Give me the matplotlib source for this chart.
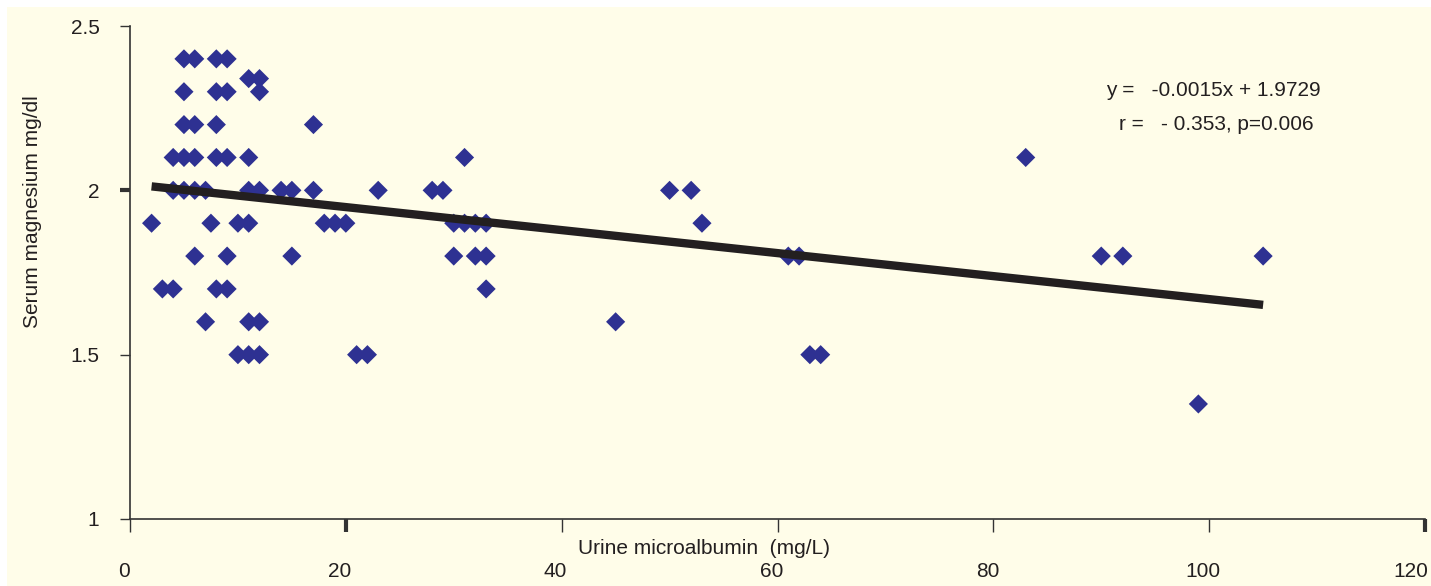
import matplotlib
matplotlib.use("Agg")
import matplotlib.pyplot as plt
import matplotlib.transforms as mtransforms
from matplotlib.patches import Rectangle
import numpy as np

plt.rcParams['font.family'] = ['Liberation Sans Narrow', 'Liberation Sans', 'DejaVu Sans']

# ---- data ----
mg_levels = [2.4, 2.34, 2.3, 2.2, 2.1, 2.0, 1.9, 1.8, 1.7, 1.6, 1.5, 1.35]
albumin_by_level = [
    [5, 6, 8, 9],
    [11, 12],
    [5, 8, 9, 12],
    [5, 6, 8, 17],
    [4, 5, 6, 8, 9, 11, 31, 83],
    [4, 5, 6, 7, 11, 12, 14, 15, 17, 23, 28, 29, 50, 52],
    [2, 7.5, 10, 11, 18, 19, 20, 30, 31, 32, 33, 53],
    [6, 9, 15, 30, 32, 33, 61, 62, 90, 92, 105],
    [3, 4, 8, 9, 33],
    [7, 11, 12, 45],
    [10, 11, 12, 21, 22, 63, 64],
    [99],
]
trend_slope = -0.0035
trend_intercept = 2.019
x_ticks = [0, 20, 40, 60, 80, 100, 120]
y_ticks = [1, 1.5, 2, 2.5]
y_tick_labels = ["1", "1.5", "2", "2.5"]
equation_text = "y =   -0.0015x + 1.9729"
r_text = "r =   - 0.353, p=0.006"
x_label = "Urine microalbumin  (mg/L)"
y_label = "Serum magnesium mg/dl"

x_vals = [x for xs in albumin_by_level for x in xs]
y_vals = [lvl for lvl, xs in zip(mg_levels, albumin_by_level) for _ in xs]

W, H = 1431, 586
bg = '#FFFDE9'
txt = '#231F20'
fig = plt.figure(figsize=(W / 100, H / 100), dpi=100, facecolor=bg)
# white strips at top and left edges
fig.patches.append(Rectangle((0, 1 - 7 / H), 1, 7 / H, transform=fig.transFigure,
                             facecolor='white', edgecolor='none', zorder=-5))
fig.patches.append(Rectangle((0, 0), 7 / W, 1, transform=fig.transFigure,
                             facecolor='white', edgecolor='none', zorder=-5))

ax = fig.add_axes([130 / W, 1 - 519 / H, (1425 - 130) / W, (519 - 26) / H])
ax.patch.set_visible(False)

ax.scatter(x_vals, y_vals, marker='D', s=95, color='#2E3192', edgecolors='none', zorder=3)

xl = np.array([min(x_vals), max(x_vals)])
ax.plot(xl, trend_intercept + trend_slope * xl, color=txt, lw=6,
        solid_capstyle='butt', zorder=4)

ax.set_xlim(0, 120)
ax.set_ylim(1, 2.5)
ax.set_xticks(x_ticks)
ax.set_xticklabels([str(t) for t in x_ticks])
ax.set_yticks(y_ticks)
ax.set_yticklabels(y_tick_labels)

for s in ['top', 'right']:
    ax.spines[s].set_visible(False)
for s in ['left', 'bottom']:
    ax.spines[s].set_color('#333333')
    ax.spines[s].set_linewidth(1.2)

ax.tick_params(axis='x', direction='out', length=9, width=1, color='#333333',
               labelsize=15, labelcolor=txt, pad=22)
ax.tick_params(axis='y', direction='out', length=7, width=1, color='#333333',
               labelsize=15, labelcolor=txt, pad=15)

# thicker ticks like the reference
ax.xaxis.get_major_ticks()[1].tick1line.set_markeredgewidth(3)
ax.xaxis.get_major_ticks()[6].tick1line.set_markeredgewidth(3)
ax.yaxis.get_major_ticks()[2].tick1line.set_markeredgewidth(3)

offset = mtransforms.ScaledTranslation(-6 / 100, 0, fig.dpi_scale_trans)
xlabels = ax.get_xticklabels()
for lab in xlabels:
    lab.set_transform(lab.get_transform() + offset)
xlabels[-1].set_horizontalalignment('right')
last_off = mtransforms.ScaledTranslation(9 / 100, 0, fig.dpi_scale_trans)
xlabels[-1].set_transform(xlabels[-1].get_transform() + last_off)

fig.text(578 / W, 1 - 548 / H, x_label, ha='left', va='center', fontsize=15, color=txt)
fig.text(33 / W, 1 - 212 / H, y_label, ha='center', va='center', rotation=90,
         fontsize=15, color=txt)

fig.text(1213 / W, 1 - 90 / H, equation_text, ha='center', va='center', fontsize=15, color=txt)
fig.text(1216 / W, 1 - 124 / H, r_text, ha='center', va='center', fontsize=15, color=txt)

fig.savefig('out.png', dpi=100, facecolor=bg)
